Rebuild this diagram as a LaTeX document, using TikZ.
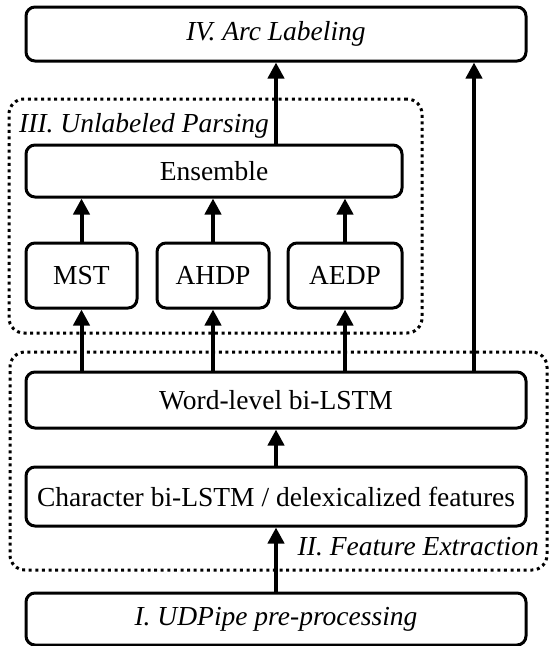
\documentclass[tikz,border=0pt]{standalone}
\usepackage{fontspec}
\setmainfont{Liberation Serif}
\usetikzlibrary{arrows.meta}
\tikzset{
  stage/.style={draw, line width=3pt, rounded corners=9pt, inner sep=0pt,
    font=\fontsize{27.5}{32}\selectfont, align=center},
  group/.style={draw, line width=3pt, dash pattern=on 3pt off 3.6pt,
    rounded corners=15pt, inner sep=0pt},
  flow/.style={line width=4pt, -{Triangle[length=16pt,width=16pt]}},
  caption/.style={inner sep=0pt, font=\fontsize{27.5}{32}\selectfont\itshape}
}
\begin{document}
\begin{tikzpicture}[x=1pt,y=-1pt]
\useasboundingbox (0,0) rectangle (550,646);

% dotted stage groups
\node[group, minimum width=413pt, minimum height=234pt] (grpIII) at (215.5,216) {};
\node[group, minimum width=537pt, minimum height=218pt] (grpII) at (278.5,461) {};
\node[caption, anchor=base west] (capIII) at (19,132) {III. Unlabeled Parsing};
\node[caption, anchor=base east] (capII) at (539,555) {II. Feature Extraction};

% processing boxes
\node[stage, minimum width=500pt, minimum height=54pt] (iv) at (276,34) {\itshape IV. Arc Labeling};
\node[stage, minimum width=376pt, minimum height=52pt] (ens) at (214,171) {Ensemble};
\node[stage, minimum width=111pt, minimum height=65pt] (mst) at (81.5,275.5) {MST};
\node[stage, minimum width=112pt, minimum height=65pt] (ahdp) at (213,275.5) {AHDP};
\node[stage, minimum width=114pt, minimum height=65pt] (aedp) at (345,275.5) {AEDP};
\node[stage, minimum width=500pt, minimum height=56pt] (word) at (276,400) {Word-level bi-LSTM};
\node[stage, minimum width=500pt, minimum height=59pt] (char) at (276,496.5) {Character bi-LSTM / delexicalized features};
\node[stage, minimum width=500pt, minimum height=52pt] (ud) at (276,619) {\itshape I. UDPipe pre-processing};

% data flow
\coordinate (side) at (474,0);
\draw[flow] (ud) -- (char);
\draw[flow] (char) -- (word);
\draw[flow] (word.north -| mst.south) -- (mst.south);
\draw[flow] (word.north -| ahdp.south) -- (ahdp.south);
\draw[flow] (word.north -| aedp.south) -- (aedp.south);
\draw[flow] (mst) -- (mst |- ens.south);
\draw[flow] (ahdp) -- (ahdp |- ens.south);
\draw[flow] (aedp) -- (aedp |- ens.south);
\draw[flow] (ens.north -| iv.south) -- (iv.south);
\draw[flow] (word.north -| side) -- (iv.south -| side);
\end{tikzpicture}
\end{document}
